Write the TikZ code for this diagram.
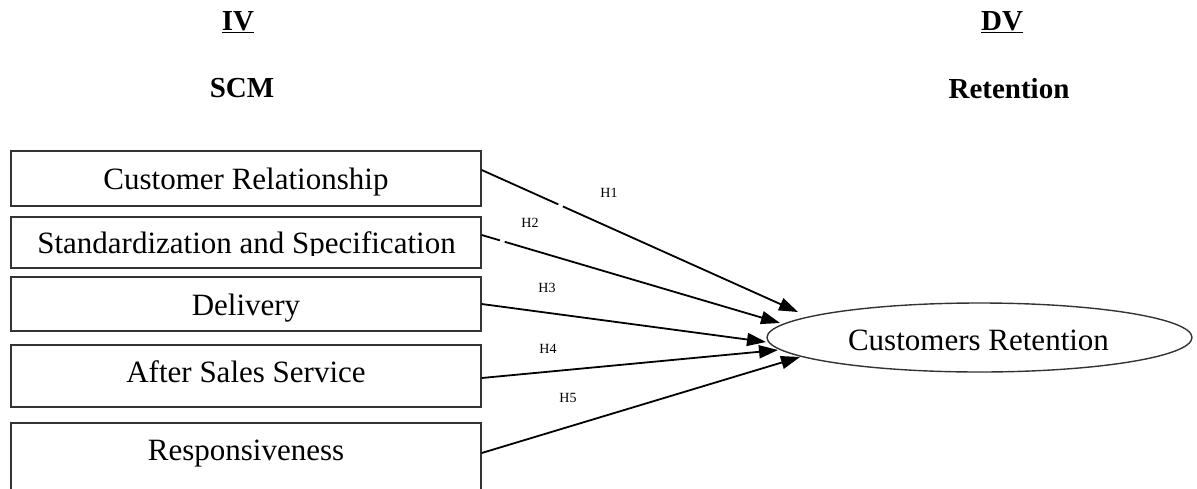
\documentclass[tikz,border=0pt]{standalone}
\usepackage{fontspec}
\setmainfont{Liberation Serif}
\usetikzlibrary{arrows.meta,shapes.geometric}
\begin{document}
\begin{tikzpicture}[x=1pt,y=-1pt,
 box/.style={draw=black!80,line width=1.4pt,minimum width=470pt,inner sep=0pt,fill=white},
 boxtext/.style={anchor=base,font=\fontsize{31}{36}\selectfont,inner sep=0pt},
 head/.style={anchor=base,font=\fontsize{29}{34}\selectfont\bfseries,inner sep=0pt},
 hyp/.style={anchor=base,font=\fontsize{14}{16}\selectfont,inner sep=0pt},
 link/.style={line width=1.8pt,-{Triangle[length=19pt,width=13pt]}}]
\useasboundingbox (0,0) rectangle (1197,488);
\clip (0,0) rectangle (1197,488);
% headers
\node[head] (iv) at (238,30) {\underline{IV}};
\node[head] (scm) at (242,97) {SCM};
\node[head] (dv) at (1002,30) {\underline{DV}};
\node[head] (ret) at (1009,98) {Retention};
% boxes
\node[box,minimum height=55pt] (b1) at (246,178.5) {};
\node[box,minimum height=51pt] (b2) at (246,242.5) {};
\node[box,minimum height=54pt] (b3) at (246,304) {};
\node[box,minimum height=62pt] (b4) at (246,376) {};
\node[box,minimum height=77pt] (b5) at (246,461.5) {};
\node[boxtext] (t1) at (246,189.3) {Customer Relationship};
\begin{scope}
\clip (11,217) rectangle (481,255.5);
\node[boxtext] (t2) at (246.5,253.3) {Standardization and Specification};
\end{scope}
\node[boxtext] (t3) at (246,315) {Delivery};
\node[boxtext] (t4) at (246,382.7) {After Sales Service};
\node[boxtext] (t5) at (246,460.7) {Responsiveness};
% ellipse
\node[ellipse,draw=black!80,line width=1.4pt,minimum width=425pt,minimum height=69pt,inner sep=0pt] (e) at (979.5,337.5) {};
\node[boxtext] (et) at (978.5,350) {Customers Retention};
% arrow tips
\coordinate (h1) at (798,312);
\coordinate (h2) at (780,323);
\coordinate (h3) at (766,342);
\coordinate (h4) at (778,350);
\coordinate (h5) at (800,357);
\draw[link,dash pattern=on 84pt off 5pt on 1000pt] ([yshift=8.5pt]b1.east) -- (h1);
\draw[link,dash pattern=on 19pt off 5pt on 1000pt] ([yshift=7.5pt]b2.east) -- (h2);
\draw[link] (b3.east) -- (h3);
\draw[link] ([yshift=-2pt]b4.east) -- (h4);
\draw[link] ([yshift=8.5pt]b5.east) -- (h5);
% labels
\node[hyp] (l1) at (609,197) {H1};
\node[hyp] (l2) at (530,227) {H2};
\node[hyp] (l3) at (547,292) {H3};
\node[hyp] (l4) at (548,353) {H4};
\node[hyp] (l5) at (568,402) {H5};
\end{tikzpicture}
\end{document}
